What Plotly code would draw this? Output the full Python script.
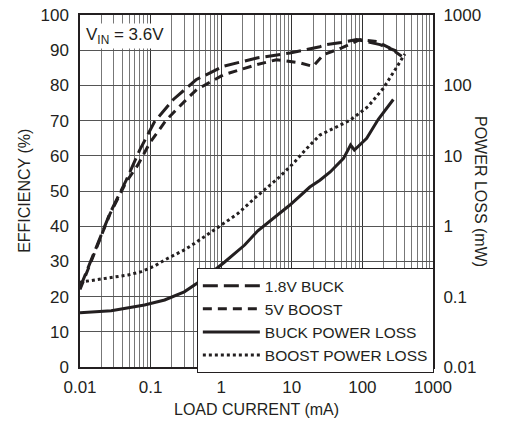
import plotly.graph_objects as go

# load current (mA) and efficiency (%)
buck_eff_x = [0.01, 0.0266, 0.045, 0.07, 0.114, 0.21, 0.44, 1.07, 3.2, 9.4, 25, 31, 50, 83, 178, 306]
buck_eff_y = [22.5, 43.7, 53, 61.6, 69.7, 76, 81.6, 85.4, 87.8, 89.2, 91, 91.6, 92.2, 93, 91.6, 89.7]

boost_eff_x = [0.01, 0.0266, 0.045, 0.066, 0.097, 0.167, 0.34, 0.45, 1.07, 3.2, 6.1, 13, 20, 28, 50, 92, 160, 245, 360]
boost_eff_y = [22, 43.5, 52.5, 57.4, 63.6, 70.2, 76.5, 78.8, 83, 85.9, 87.3, 86.4, 85.4, 88.7, 90.6, 93, 92.5, 90.6, 88.3]

# power loss (mW)
buck_loss_x = [0.01, 0.0277, 0.082, 0.158, 0.30, 0.58, 1.12, 2.15, 3.3, 9.4, 18, 25, 35, 54, 68, 77, 115, 168, 274]
buck_loss_y = [0.059, 0.063, 0.076, 0.0895, 0.117, 0.182, 0.31, 0.54, 0.86, 2.0, 3.6, 4.5, 5.9, 9.2, 14.2, 12.1, 17.7, 33, 63]

boost_loss_x = [0.01, 0.02, 0.031, 0.048, 0.074, 0.114, 0.158, 0.22, 0.30, 0.42, 0.58, 0.81, 1.18, 1.73, 3.14,
                6.4, 10.5, 15.4, 25, 39, 67, 120, 198, 315, 400]
boost_loss_y = [0.16, 0.176, 0.188, 0.203, 0.226, 0.272, 0.331, 0.39, 0.46, 0.57, 0.71, 0.88, 1.16, 1.52, 2.62,
                4.8, 7.8, 12.0, 19.7, 24.5, 32, 50, 91, 190, 280]

x_ticks = [0.01, 0.1, 1, 10, 100, 1000]
x_ticktext = ["0.01", "0.1", "1", "10", "100", "1000"]
loss_ticks = [0.01, 0.1, 1, 10, 100, 1000]
loss_ticktext = ["0.01", "0.1", "1", "10", "100", "1000"]
x_minor = [m * d for d in [0.01, 0.1, 1, 10, 100] for m in range(2, 10)]

INK = "#231f20"
FONT = "Liberation Sans, Arial, sans-serif"

fig = go.Figure()
fig.add_trace(go.Scatter(x=buck_eff_x, y=buck_eff_y, name="1.8V BUCK", mode="lines",
                         line=dict(color=INK, width=3, dash="15px,6px")))
fig.add_trace(go.Scatter(x=boost_eff_x, y=boost_eff_y, name="5V BOOST", mode="lines",
                         line=dict(color=INK, width=3, dash="9px,6px")))
fig.add_trace(go.Scatter(x=buck_loss_x, y=buck_loss_y, name="BUCK POWER LOSS", mode="lines",
                         yaxis="y2", line=dict(color=INK, width=3)))
fig.add_trace(go.Scatter(x=boost_loss_x, y=boost_loss_y, name="BOOST POWER LOSS", mode="lines",
                         yaxis="y2", line=dict(color=INK, width=3, dash="3px,3px")))

# the page body has an 8px margin, so the figure is shifted by it
fig.update_layout(
    width=499, height=416,
    margin=dict(l=72, r=74, t=7, b=57),
    paper_bgcolor="white", plot_bgcolor="white",
    font=dict(family=FONT, size=17, color=INK),
    showlegend=True,
    legend=dict(x=0.331, y=0.281, xanchor="left", yanchor="top",
                bgcolor="white", bordercolor=INK, borderwidth=1,
                font=dict(size=15.5), tracegroupgap=0, itemwidth=57),
    xaxis=dict(type="log", range=[-2, 3], tickvals=x_ticks, ticktext=x_ticktext,
               showgrid=True, gridcolor="#333", gridwidth=1,
               minor=dict(tickmode="array", tickvals=x_minor, showgrid=True,
                          gridcolor="#777", gridwidth=1),
               showline=True, mirror=True, linecolor=INK, linewidth=1.5, automargin=False,
               ticks="outside", ticklen=4, tickcolor="rgba(0,0,0,0)", zeroline=False,
               ticklabeloverflow="allow"),
    yaxis=dict(range=[0, 100], dtick=10, showgrid=True, gridcolor="#555", gridwidth=1,
               showline=True, mirror=True, linecolor=INK, linewidth=1.5, automargin=False,
               ticks="outside", ticklen=6, tickcolor="rgba(0,0,0,0)", zeroline=False,
               ticklabeloverflow="allow"),
    yaxis2=dict(type="log", range=[-2, 3], overlaying="y", side="right", automargin=False,
                tickvals=loss_ticks, ticktext=loss_ticktext, showgrid=False,
                showline=False, ticks="outside", ticklen=6, tickcolor="rgba(0,0,0,0)",
                ticklabeloverflow="allow"),
    annotations=[
        dict(text="V<sub>IN</sub> = 3.6V", xref="paper", yref="paper", x=0, y=1,
             xanchor="left", yanchor="top", xshift=4, yshift=-8, showarrow=False,
             bgcolor="white", borderpad=1, font=dict(size=17)),
        dict(text="EFFICIENCY (%)", xref="paper", yref="paper", x=-0.159, y=0.5,
             xanchor="center", yanchor="middle",
             textangle=-90, showarrow=False, font=dict(size=16)),
        dict(text="POWER LOSS (mW)", xref="paper", yref="paper", x=1.136, y=0.5,
             xanchor="center", yanchor="middle",
             textangle=90, showarrow=False, font=dict(size=16)),
        dict(text="LOAD CURRENT (mA)", xref="paper", yref="paper", x=0.5, y=-0.122,
             xanchor="center", yanchor="middle", showarrow=False, font=dict(size=16)),
    ],
)

fig.write_html("out.html")
